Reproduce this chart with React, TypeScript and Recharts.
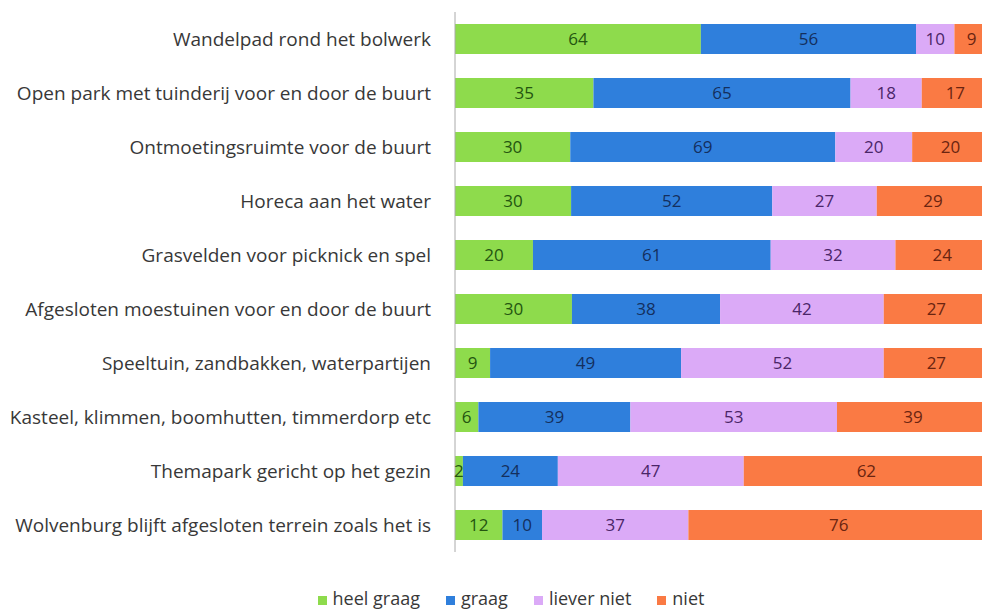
import React from "react";
import { Bar, BarChart, LabelList, Legend, XAxis, YAxis } from "recharts";

const categories = [
  "Wandelpad rond het bolwerk",
  "Open park met tuinderij voor en door de buurt",
  "Ontmoetingsruimte voor de buurt",
  "Horeca aan het water",
  "Grasvelden voor picknick en spel",
  "Afgesloten moestuinen voor en door de buurt",
  "Speeltuin, zandbakken, waterpartijen",
  "Kasteel, klimmen, boomhutten, timmerdorp etc",
  "Themapark gericht op het gezin",
  "Wolvenburg blijft afgesloten terrein zoals het is",
];
const heelGraag = [64, 35, 30, 30, 20, 30, 9, 6, 2, 12];
const graag = [56, 65, 69, 52, 61, 38, 49, 39, 24, 10];
const lieverNiet = [10, 18, 20, 27, 32, 42, 52, 53, 47, 37];
const niet = [9, 17, 20, 29, 24, 27, 27, 39, 62, 76];

const data = categories.map((name, i) => ({
  name,
  "heel graag": heelGraag[i],
  graag: graag[i],
  "liever niet": lieverNiet[i],
  niet: niet[i],
}));

const series = [
  { key: "heel graag", fill: "#8edb4c", text: "#245510" },
  { key: "graag", fill: "#2f7fdc", text: "#142f5e" },
  { key: "liever niet", fill: "#dbaaf7", text: "#4a2568" },
  { key: "niet", fill: "#fa7a44", text: "#6a2410" },
];

const font = "'Open Sans', sans-serif";

export default function App() {
  return (
    <div
      style={{
        position: "absolute",
        left: 0,
        top: 0,
        width: 982,
        height: 610,
        overflow: "hidden",
        background: "#fff",
        fontFamily: font,
      }}
    >
      <BarChart
        width={1000}
        height={610}
        data={data}
        layout="vertical"
        stackOffset="expand"
        barSize={30}
        margin={{ top: 12, right: 11, left: 0, bottom: 36 }}
      >
        <XAxis type="number" domain={[0, 1]} hide />
        <YAxis
          type="category"
          dataKey="name"
          width={455}
          tickLine={false}
          axisLine={{ stroke: "#aaaaaa" }}
          tick={{ fill: "#383838", fontSize: 19, fontFamily: font }}
          tickMargin={18}
          interval={0}
        />
        <Legend
          iconType="square"
          iconSize={9}
          itemSorter={null}
          wrapperStyle={{ top: 587, left: 44, width: 960, fontSize: 18, lineHeight: "22px", fontFamily: font }}
          formatter={(v) => (
            <span style={{ color: "#383838", marginLeft: 2, marginRight: 16 }}>{v}</span>
          )}
        />
        {series.map((s) => (
          <Bar
            key={s.key}
            dataKey={s.key}
            stackId="a"
            fill={s.fill}
            isAnimationActive={false}
          >
            <LabelList
              dataKey={s.key}
              position="center"
              fill={s.text}
              fontSize={17}
              fontFamily={font}
            />
          </Bar>
        ))}
      </BarChart>
    </div>
  );
}
